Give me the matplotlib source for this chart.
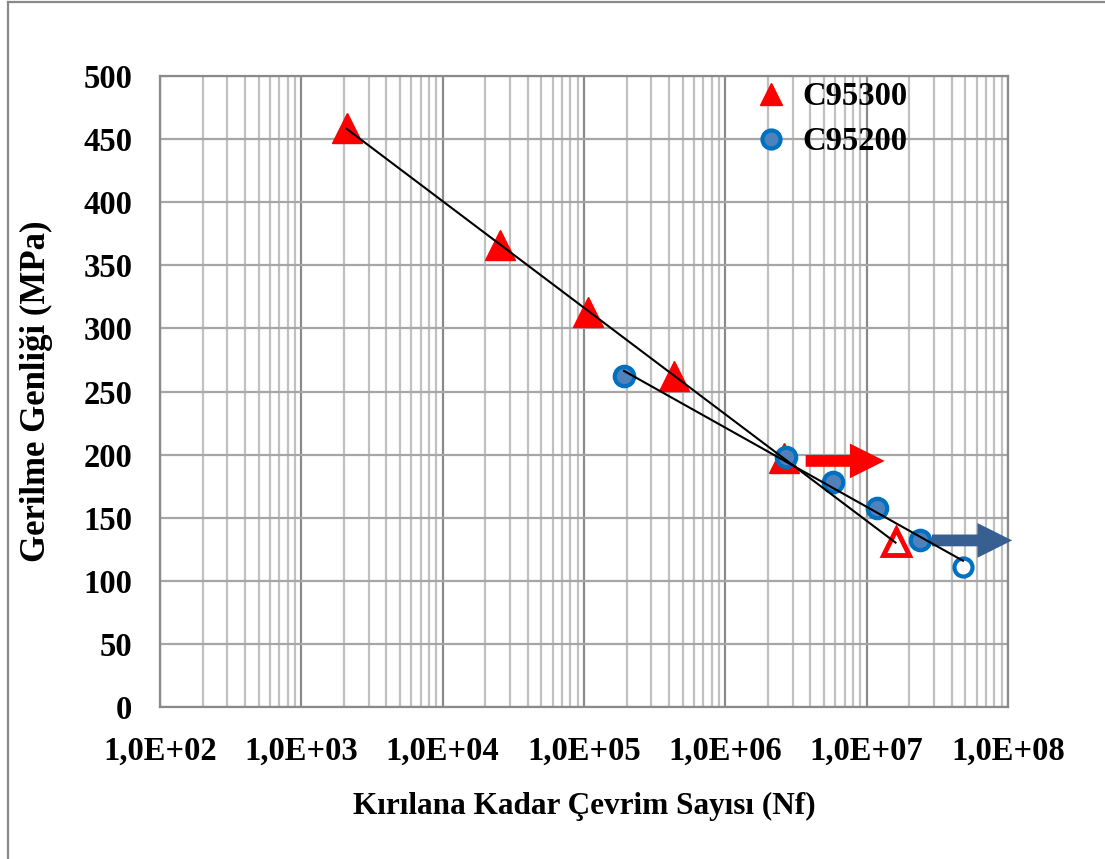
import numpy as np
import matplotlib.pyplot as plt
from matplotlib.ticker import LogLocator, FixedLocator, FuncFormatter
from matplotlib.lines import Line2D

# C95300 - failed specimens and run-out
c95300_n = [2.1e3, 2.55e4, 1.07e5, 4.35e5, 2.6e6]
c95300_s = [459, 366, 313, 262, 197]
c95300_runout_n = [1.6e7]
c95300_runout_s = [131]

# C95200 - failed specimens and run-out
c95200_n = [1.92e5, 2.7e6, 5.8e6, 1.18e7, 2.38e7]
c95200_s = [262, 198, 178, 158, 132]
c95200_runout_n = [4.8e7]
c95200_runout_s = [111]

# run-out arrows: (start N, end N, stress)
red_arrow = (3.7e6, 1.34e7, 195)
blue_arrow = (2.9e7, 1.07e8, 132)

y_ticks = [0, 50, 100, 150, 200, 250, 300, 350, 400, 450, 500]
x_ticks = [1e2, 1e3, 1e4, 1e5, 1e6, 1e7, 1e8]

plt.rcParams['font.family'] = ['Liberation Serif', 'DejaVu Serif']
plt.rcParams['font.weight'] = 'bold'

fig = plt.figure(figsize=(11.05, 8.59), dpi=100)
ax = fig.add_axes([160 / 1105, 1 - 707 / 859, 848 / 1105, 631 / 859])

ax.set_xscale('log')
ax.set_xlim(1e2, 1e8)
ax.set_ylim(0, 500)

# grid
ax.xaxis.set_major_locator(FixedLocator(x_ticks))
ax.xaxis.set_minor_locator(LogLocator(base=10, subs=np.arange(2, 10)))
ax.yaxis.set_major_locator(FixedLocator(y_ticks))
ax.grid(True, which='major', axis='x', color='#8a8a8a', lw=1.6)
ax.grid(True, which='minor', axis='x', color='#c0c0c0', lw=1.6)
ax.grid(True, which='major', axis='y', color='#a6a6a6', lw=1.6)
ax.set_axisbelow(True)
for s in ax.spines.values():
    s.set_color('#8a8a8a')
    s.set_linewidth(1.6)

ax.tick_params(which='both', length=0)
ax.tick_params(axis='x', pad=21, labelsize=23.5)
ax.tick_params(axis='y', pad=20, labelsize=23.5)
ax.xaxis.set_major_formatter(FuncFormatter(lambda v, p: '1,0E+%02d' % round(np.log10(v))))
for lab in ax.get_xticklabels() + ax.get_yticklabels():
    lab.set_fontweight('bold')

# markers
ax.plot(c95300_n, c95300_s, ls='none', marker='^', ms=21, mfc='#ff0000', mec='#ff0000',
        mew=1, label='C95300', zorder=3)
ax.plot(c95300_runout_n, c95300_runout_s, ls='none', marker='^', ms=19, mfc='white',
        mec='#ff0000', mew=3.5, zorder=3)
ax.plot(c95200_n, c95200_s, ls='none', marker='o', ms=14, mfc='#4f81bd', mec='#0070c0',
        mew=3, label='C95200', zorder=4)
ax.plot(c95200_runout_n, c95200_runout_s, ls='none', marker='o', ms=13, mfc='white',
        mec='#0070c0', mew=3, zorder=4)

# logarithmic trend lines over each data set
for n, s, n2, s2 in [(c95300_n, c95300_s, c95300_runout_n, c95300_runout_s),
                     (c95200_n, c95200_s, c95200_runout_n, c95200_runout_s)]:
    all_n = np.array(n + n2)
    all_s = np.array(s + s2)
    b, a = np.polyfit(np.log10(all_n), all_s, 1)
    xx = np.array([all_n.min(), all_n.max()])
    ax.plot(xx, a + b * np.log10(xx), color='black', lw=1.5, zorder=5)

# run-out arrows
for (x0, x1, yv), col in [(red_arrow, '#ff0000'), (blue_arrow, '#375f91')]:
    ax.annotate('', xy=(x1, yv), xytext=(x0, yv), annotation_clip=False,
                arrowprops=dict(arrowstyle='simple,head_length=25,head_width=25,tail_width=8.5',
                                mutation_scale=1, color=col, shrinkA=0, shrinkB=0, lw=0),
                zorder=3)

ax.set_xlabel('Kırılana Kadar Çevrim Sayısı (Nf)', fontsize=22.5, fontweight='bold', labelpad=18)
ax.set_ylabel('Gerilme Genliği (MPa)', fontsize=25, fontweight='bold', labelpad=22)

leg = ax.legend(loc='upper left', bbox_to_anchor=(0.682, 1.012), frameon=False, fontsize=23.5,
                handletextpad=0.35, labelspacing=0.42, handlelength=1.2, borderaxespad=0)
for t in leg.get_texts():
    t.set_fontweight('bold')
leg.legend_handles[0].set_markersize(16)
leg.legend_handles[1].set_markersize(13)

# outer chart border (left and top edges visible)
fig.add_artist(Line2D([8 / 1105, 8 / 1105], [0, 1 - 1.5 / 859], color='#8a8a8a', lw=1.6))
fig.add_artist(Line2D([8 / 1105, 1], [1 - 1.5 / 859, 1 - 1.5 / 859], color='#8a8a8a', lw=1.6))

fig.savefig('out.png', dpi=100)
